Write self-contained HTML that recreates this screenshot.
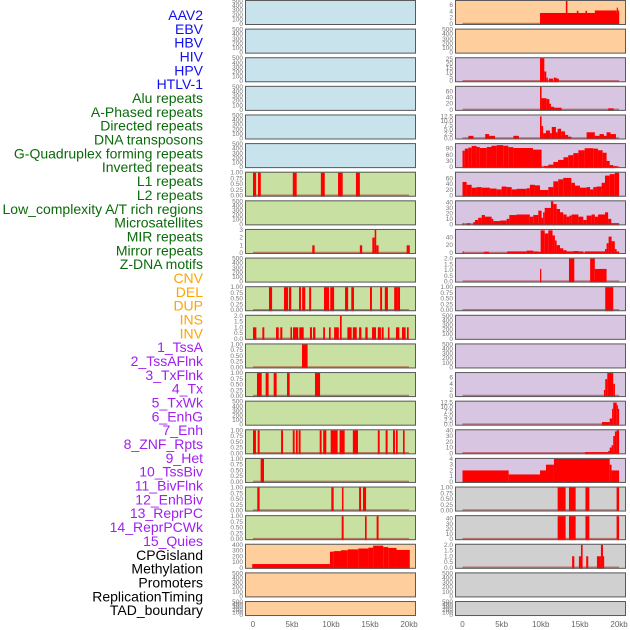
<!DOCTYPE html>
<html><head><meta charset="utf-8"><style>
html,body{margin:0;padding:0;background:#fff;width:630px;height:630px;overflow:hidden}
svg{display:block;font-family:"Liberation Sans",sans-serif}
</style></head><body>
<svg id="chart" width="630" height="630" viewBox="0 0 630 630"></svg>
<script>
const trackLabels=["AAV2","EBV","HBV","HIV","HPV","HTLV-1","Alu repeats","A-Phased repeats","Directed repeats","DNA transposons","G-Quadruplex forming repeats","Inverted repeats","L1 repeats","L2 repeats","Low_complexity A/T rich regions","Microsatellites","MIR repeats","Mirror repeats","Z-DNA motifs","CNV","DEL","DUP","INS","INV","1_TssA","2_TssAFlnk","3_TxFlnk","4_Tx","5_TxWk","6_EnhG","7_Enh","8_ZNF_Rpts","9_Het","10_TssBiv","11_BivFlnk","12_EnhBiv","13_ReprPC","14_ReprPCWk","15_Quies","CPGisland","Methylation","Promoters","ReplicationTiming","TAD_boundary"];
const labelColors=[].concat(Array(6).fill("#1010ee"),Array(13).fill("#0a6b0a"),Array(5).fill("#ffa500"),Array(15).fill("#a020f0"),Array(5).fill("#000"));
const xTickLabels=["0","5kb","10kb","15kb","20kb"];
const xTickValues=[0,5,10,15,20];
const E=[0,100,200,300,400,500];
const U=[0,0.25,0.5,0.75,1];
const leftBg=["b","b","b","b","b","b","g","g","g","g","g","g","g","g","g","g","g","g","g","o","o","o"];
const leftYmax=[500,500,500,500,500,500,1,500,3,500,1,2,1,1,500,1,1,1,1,400,500,500];
const leftTicks=[E,E,E,E,E,E,U,E,[0,1,2,3],E,U,[0,0.5,1,1.5,2],U,U,E,U,U,U,U,[0,100,200,300,400],E,E];
const leftBars=[[],[],[],[],[],[],
[[0,0.4,1],[0.64,1,1],[5.1,5.6,1],[8.7,9.2,1],[10.9,11.5,1],[13.2,13.7,1]],
[],
[[7.6,7.9,1],[13.7,14,1],[15.3,15.6,2],[15.6,15.8,3],[15.8,16.1,1],[19.7,20.1,1]],
[],
[[2.05,2.45,1],[3.97,4.49,1],[4.6,4.9,1],[5.9,6.15,1],[6.3,6.7,1],[7.2,7.45,1],[9.1,9.75,1],[9.9,10.4,1],[11.8,12.2,1],[12.6,12.95,1],[15,15.25,1],[16.3,16.55,1],[16.9,17.3,1],[18.1,18.5,1],[18.5,18.85,1]],
[[0,0.43,1],[1.2,1.45,1],[2.95,3.3,1],[3.5,3.76,1],[4.8,5,1],[5.13,5.8,1],[5.94,6.5,1],[7.3,7.56,1],[7.7,8,1],[9,9.23,1],[9.74,9.96,1],[10.4,11,1],[11.15,11.37,2],[12.1,12.65,1],[12.8,13.3,1],[13.6,13.9,1],[14.4,14.7,1],[15.26,15.77,1],[16,16.4,1],[16.5,16.75,1],[17.3,17.5,1],[18.33,18.76,1],[19.1,19.57,1],[19.74,19.96,1]],
[[6.28,7,1]],
[[0.51,1.11,1],[1.62,2,1],[2.65,3.03,1],[4.36,4.7,1],[7.95,8.6,1]],
[],
[[0,0.38,1],[0.6,0.85,1],[3.6,3.85,1],[5.1,5.34,1],[5.5,5.73,1],[5.85,6.1,1],[8.55,8.8,1],[9,9.4,1],[9.96,10.85,1],[11.1,11.75,1],[12.8,13.46,1],[16,16.24,1],[17,17.26,1],[17.95,18.2,1],[18.33,18.55,1],[19.23,19.44,1]],
[[0.98,1.41,1]],
[[0.55,0.85,1],[10.04,10.34,1],[11.4,11.6,1],[13.6,13.85,1],[14.1,14.5,1]],
[[11.37,11.62,1],[14.36,14.57,1],[15.85,16.1,1]],
[[-0.1,9.87,65],[9.87,10.34,280],[10.34,11.28,290],[11.28,12.14,305],[12.14,13.5,320],[13.5,14.8,335],[14.8,15.4,350],[15.4,16.7,385],[16.7,17.35,360],[17.35,18.4,345],[18.4,20.1,310]],
[],[]];
const rightBg=["o","o","p","p","p","p","p","p","p","p","p","p","p","p","p","p","p","y","y","y","y","y"];
const rightYmax=[7.3,500,26,75,13,112,80,42,59,2,1,500,500,7.5,13,40,4,1,45,2,500,500];
const rightTicks=[[0,2,4,6],E,[0,5,10,15,20,25],[0,20,40,60],[0,2.5,5,7.5,10,12.5],[0,30,60,90],[0,20,40,60],[0,10,20,30,40],[0,20,40],[0,0.5,1,1.5,2],U,E,E,[0,2,4,6],[0,2.5,5,7.5,10,12.5],[0,10,20,30,40],[0,1,2,3,4],U,[0,10,20,30,40],[0,0.5,1,1.5,2],E,E];
const row6Edges=[0,0.53,1.17,1.8,2.45,3.5,4.36,5,5.64,6.28,6.9,8.2,8.6,9.25,9.9,10.96,11.6,12.23,12.87,13.9,14.36,15,15.85,16.3,16.7,17.13,17.77,18.2,18.8,19.45,20];
const row6Values=[48,38,28,30,28,25,22,32,30,22,24,26,38,36,20,30,50,57,62,45,35,28,30,22,30,32,45,70,75,80];
const rightBars=[
[[9.9,20,3.5],[13.2,13.4,7.3],[14.6,14.8,4.2],[15.7,15.9,4.2],[16.9,19.7,4.3],[19.7,19.85,5.2],[19.85,20,4.3]],
[],
[[9.9,10.45,26],[10.45,10.7,11],[10.7,10.9,4],[11.04,11.55,3],[11.64,12,4],[12,12.3,3]],
[[9.9,10.1,75],[10.1,10.75,38],[10.75,11.1,35],[11.1,11.3,20],[11.3,11.7,10],[11.7,12.65,7],[18.6,19.3,5]],
[[9.9,10.1,12.5],[10.1,10.3,7],[10.3,10.66,3],[10.66,11.17,4.5],[11.17,11.4,3],[11.4,11.93,6.5],[11.93,12.15,3.5],[12.15,12.6,5.5],[12.6,13.1,4],[13.1,13.5,2],[13.5,13.9,1],[0.75,1.4,1.5],[2.9,3.4,2.5],[3.4,4.15,1.5],[6.5,7.2,1.5],[15.85,16.9,3.5],[16.9,17.5,1.5],[17.5,18.06,2.5],[18.06,18.4,1.5],[18.4,18.9,3.5],[18.9,19.6,2.5]],
[[0,0.3,80],[0.3,0.75,90],[0.75,1.17,95],[1.17,1.8,103],[1.8,2.2,98],[2.2,3.1,93],[3.1,3.7,98],[3.7,4.36,104],[4.36,5.2,107],[5.2,5.85,104],[5.85,6.5,97],[6.5,9,93],[9,10.1,85],[10.4,10.95,5],[10.95,11.6,12],[11.6,12.2,25],[12.2,12.9,35],[12.9,13.5,48],[13.5,14.15,58],[14.15,14.8,68],[14.8,15.6,82],[15.6,16.7,92],[16.7,17.3,90],[17.3,17.9,82],[17.9,18.4,70],[18.4,18.8,30],[18.8,19.25,10],[19.25,19.7,4]],
"STEP6",
[[0,0.15,2],[0.53,0.96,2],[1.38,1.6,4],[1.6,2,8],[2,2.45,12],[2.45,2.87,17],[2.87,3.72,14],[3.72,3.94,10],[3.94,4.8,6],[4.8,5.64,7],[5.64,5.98,10],[5.98,6.9,17],[6.9,8.6,18],[8.6,9.04,14],[9.04,9.68,17],[9.68,10.1,25],[10.1,10.3,12],[10.3,10.5,22],[10.5,11.3,30],[11.3,11.6,42],[11.6,12.02,37],[12.02,12.45,28],[12.45,12.87,22],[12.87,13.3,18],[13.3,13.64,14],[13.64,13.94,16],[13.94,14.8,18],[14.8,15.43,14],[15.43,15.85,8],[15.85,16.5,16],[16.5,16.9,18],[16.9,17.3,14],[17.3,18.2,18],[18.2,18.6,22],[18.6,19,10],[19,20,2]],
[[0,0.15,4],[2.74,3.38,3],[5.72,8.2,4],[8.2,9.04,6],[9.04,9.68,4],[9.68,9.98,3],[9.98,10.5,58],[10.5,10.96,50],[10.96,11.5,58],[11.5,11.8,45],[11.8,12.02,32],[12.02,12.45,20],[12.45,12.87,12],[12.87,13.3,7],[13.3,14.15,4],[14.15,14.8,5],[14.8,15.43,4],[15.64,18.2,4],[18.2,18.4,10],[18.4,18.66,25],[18.66,19.04,42],[19.04,19.45,30],[19.45,19.68,10],[19.68,20,4]],
[[9.9,10.06,1.1],[13.6,14.28,2],[16.3,16.9,2],[16.9,18.4,1.1]],
[[18.23,19.25,1]],
[],[],
[[18.06,18.23,2],[18.23,18.49,5.5],[18.49,19.25,7.5],[19.25,19.47,4]],
[[17.8,18.8,1.5],[18.8,19.1,3.5],[19.1,19.25,9],[19.25,19.7,12.5],[19.7,19.85,11],[19.85,20,9]],
[[15.64,18.6,2],[18.6,18.8,4],[18.8,19.04,10],[19.04,19.25,14],[19.25,19.47,30],[19.47,19.68,38],[19.68,20,40]],
[[0,5.9,2],[5.9,9.9,1.3],[9.9,10.66,2],[10.66,11.68,3],[11.68,18.8,4],[18.8,19.04,3],[19.04,20,2]],
[[12.15,13.17,1],[13.6,14.45,1],[15.7,16.2,1],[19.68,20,1]],
[[12.15,13.17,45],[13.6,14.45,45],[15.7,16.2,45],[19.68,20,45]],
[[14,14.28,1],[14.87,15.25,1],[15.13,15.34,2],[15.8,16.06,1],[17.17,17.68,1],[17.68,17.94,2],[17.94,18,1]],
[],[]];

const NS="http://www.w3.org/2000/svg";
const svg=document.getElementById("chart");
const bgColors={b:"#c8e3eb",g:"#c8e0a2",o:"#fecf9d",p:"#d7c5e2",y:"#d0d0d0"};
function mk(tag,attrs,parent){const e=document.createElementNS(NS,tag);for(const k in attrs)e.setAttribute(k,attrs[k]);(parent||svg).appendChild(e);return e;}
function rowTop(i){return 28.62*i;}
function rowH(i){return i===21?15:25;}
function decimals(ticks){let d=0;ticks.forEach(v=>{const s=String(v);if(s.includes('.'))d=Math.max(d,s.split('.')[1].length);});return d;}

trackLabels.forEach((t,i)=>{
  const el=mk("text",{x:203,y:15+i*13.84+5,"text-anchor":"end","font-size":"14",fill:labelColors[i]});
  el.textContent=t;
  
  
});

function drawPanel(col,i,bg,ymax,ticks,bars){
  const px0=col?455:245, px1=col?626:416;
  const k0=col?462.5:253, kscale=col?7.83:7.8;
  const top=rowTop(i), h=rowH(i);
  const xs=kb=>k0+kb*kscale;
  const ys=v=>top+h-1-(v/ymax)*(h-2);
  const g=mk("g",{});
  
  
  mk("rect",{x:px0,y:top,width:px1-px0,height:h,fill:bgColors[bg]},g);
  const d=decimals(ticks);
  ticks.forEach(v=>{
    const t=mk("text",{x:px0-2,y:ys(v)+2,"text-anchor":"end","font-size":"6.5",fill:"#777"},g);
    t.textContent=v.toFixed(d);
    
    
  });
  let list=bars;
  if(bars==="STEP6"){list=row6Values.map((v,j)=>[row6Edges[j],row6Edges[j+1],v]);}
  if(list.length){
    mk("line",{x1:xs(0),x2:xs(20),y1:ys(0)-0.5,y2:ys(0)-0.5,stroke:"rgba(170,40,40,0.55)","stroke-width":"1.5"},g);
  }
  list.forEach(b=>{
    const x=xs(b[0]),w=Math.max(xs(b[1])-x,1.2),y=ys(Math.min(b[2],ymax));
    const r=mk("rect",{x:x,y:y,width:w,height:ys(0)-y+1,fill:"#ff0000"},g);
    
    
  });
  mk("rect",{x:px0+0.5,y:top+0.5,width:px1-px0-1,height:h-1,fill:"none",stroke:"#5a5a5a","stroke-width":"1"},g);
  if(i===21){
    xTickValues.forEach((v,j)=>{
      const t=mk("text",{x:xs(v),y:627,"text-anchor":"middle","font-size":"8",fill:"#666"},g);
      t.textContent=xTickLabels[j];
      
      
    });
  }
}
for(let i=0;i<22;i++){
  drawPanel(0,i,leftBg[i],leftYmax[i],leftTicks[i],leftBars[i]);
  drawPanel(1,i,rightBg[i],rightYmax[i],rightTicks[i],rightBars[i]);
}
</script>
</body></html>
